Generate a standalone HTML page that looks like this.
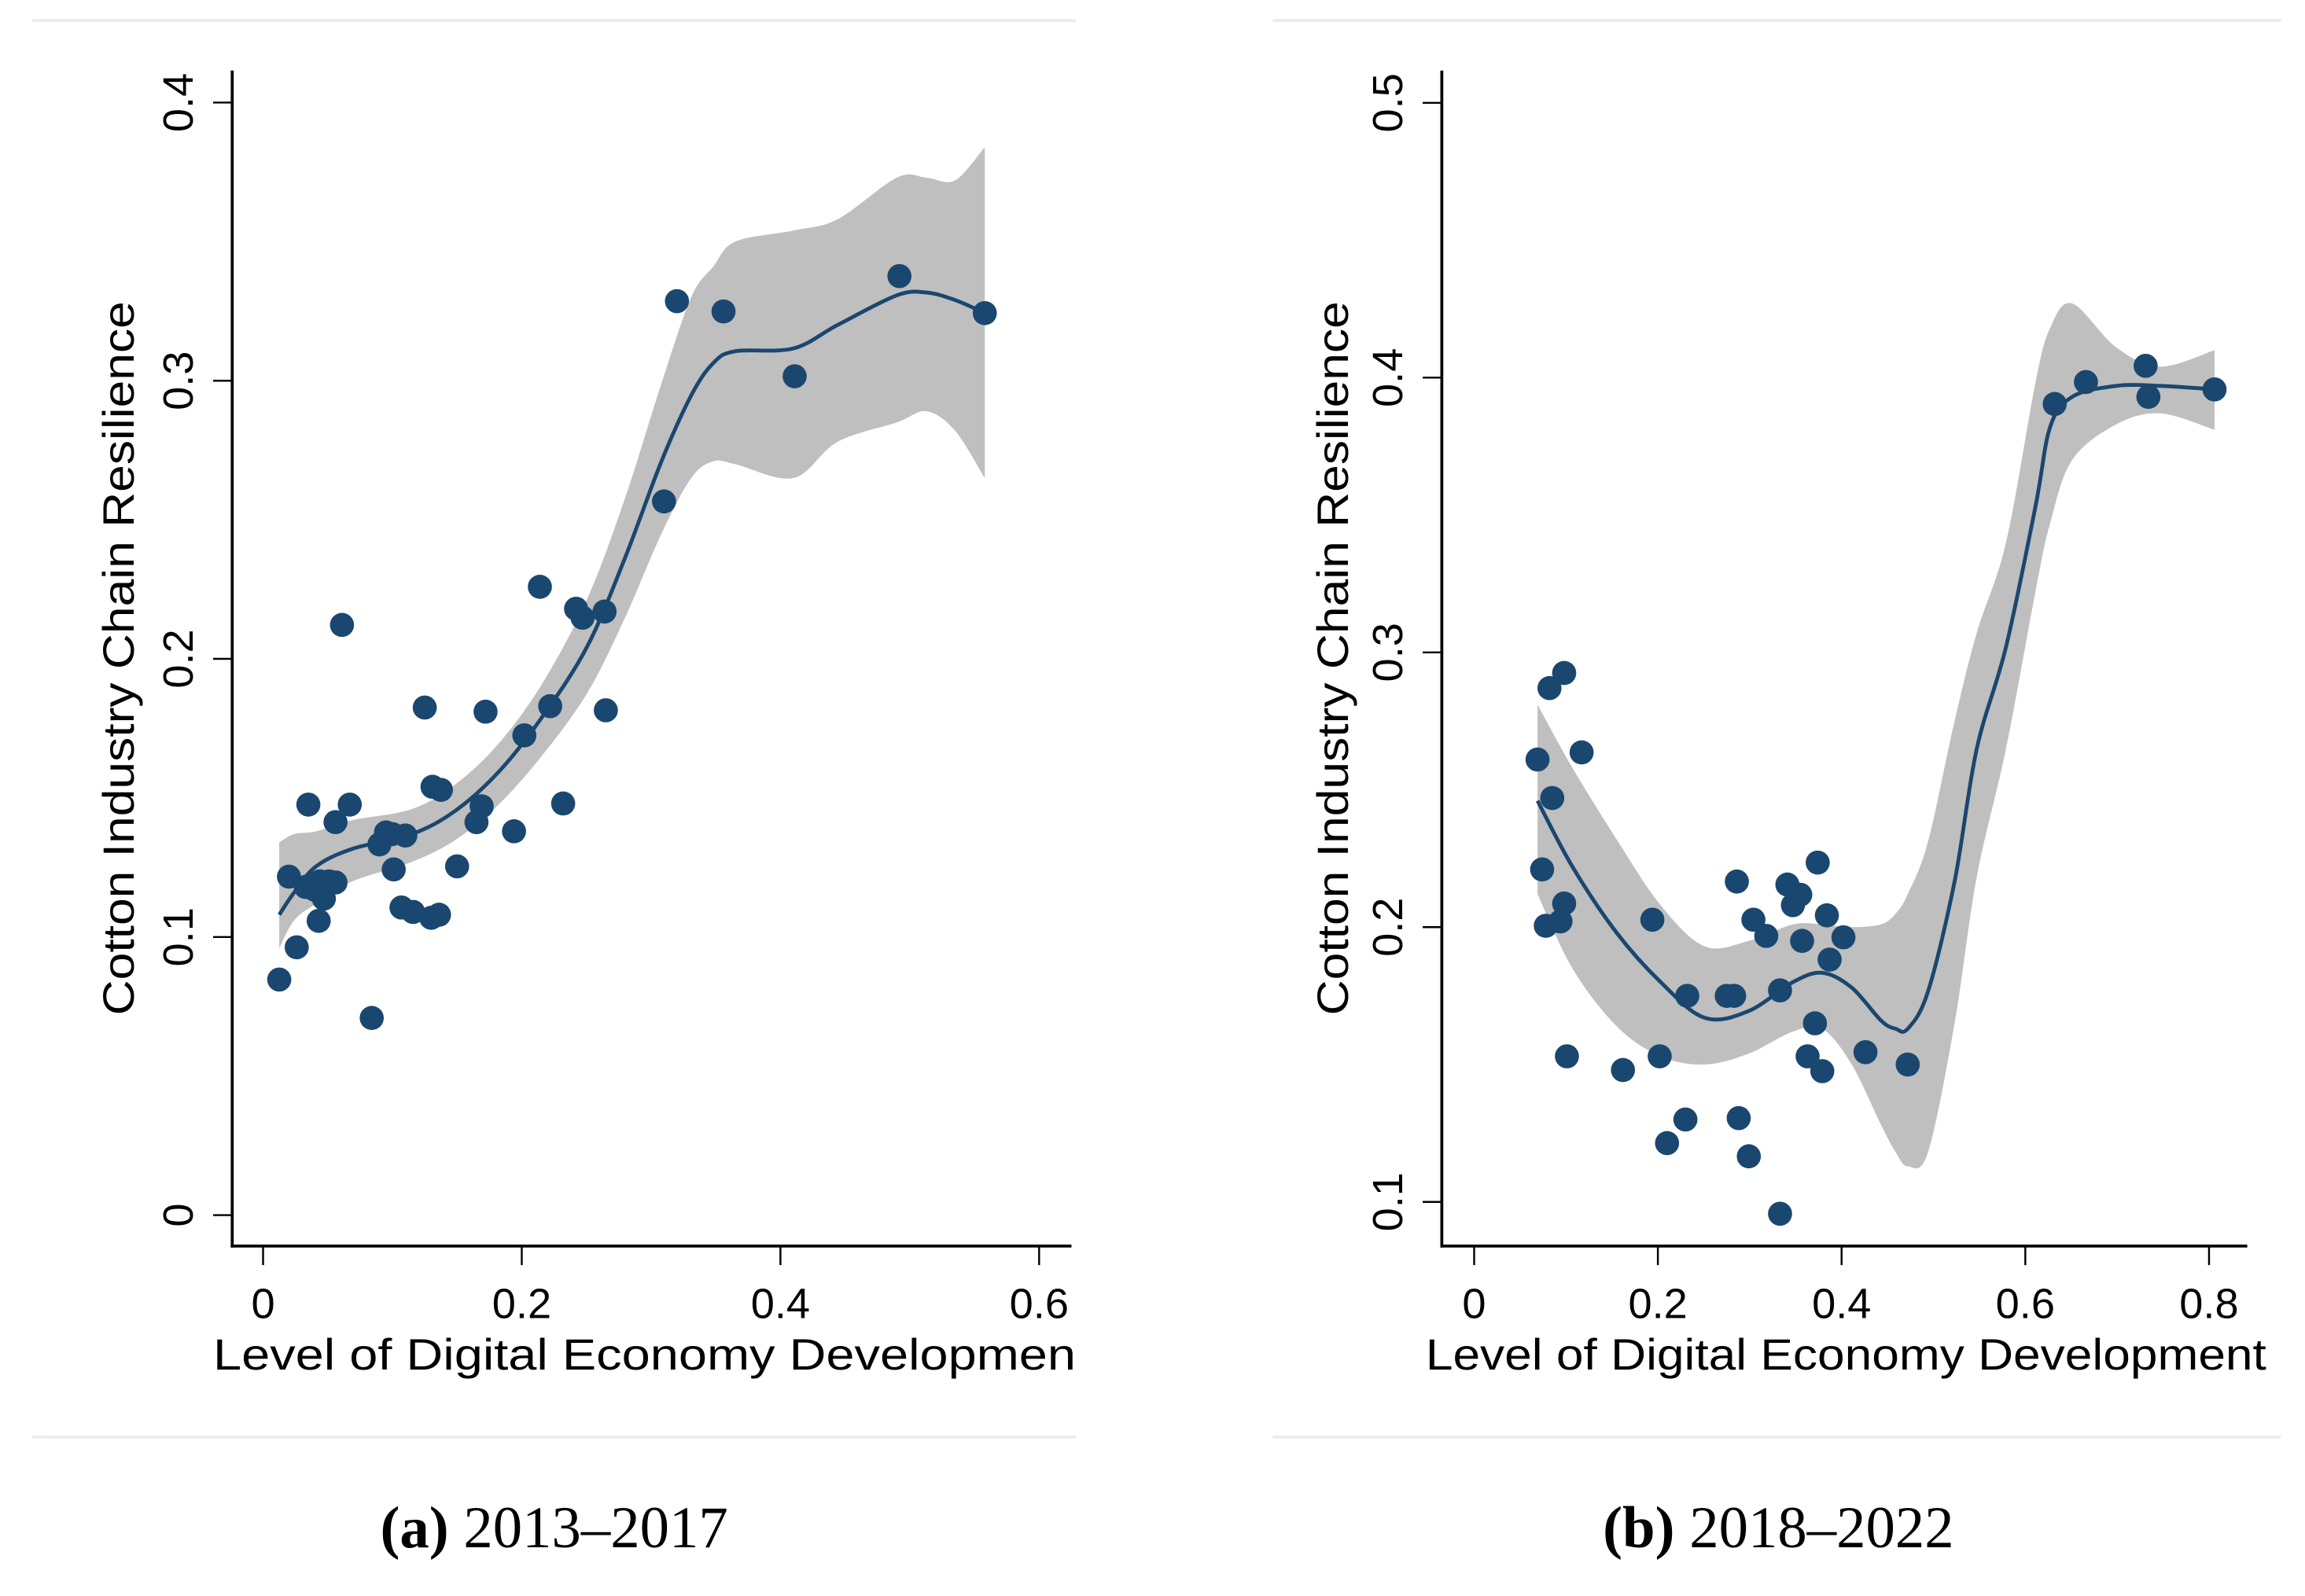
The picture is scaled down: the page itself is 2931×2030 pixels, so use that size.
<!DOCTYPE html>
<html><head><meta charset="utf-8"><style>
html,body{margin:0;padding:0;background:#fff;}
svg{display:block;}
text{font-family:"Liberation Sans",sans-serif;fill:#000;}
.cap{font-family:"Liberation Serif",serif;}
</style></head><body>
<svg id="fig" width="2931" height="2030" viewBox="0 0 1568.3 1086.2" xmlns="http://www.w3.org/2000/svg">
<g stroke="#e6eded" stroke-width="2">
<line x1="22" y1="14" x2="732" y2="14"/><line x1="22" y1="978" x2="732" y2="978"/>
<line x1="866" y1="14" x2="1552" y2="14"/><line x1="866" y1="978" x2="1552" y2="978"/>
</g>
<text class="cap" x="377" y="1053" font-size="40" text-anchor="middle"><tspan font-weight="bold">(a)</tspan> 2013–2017</text>
<text class="cap" x="1210" y="1053" font-size="40" text-anchor="middle"><tspan font-weight="bold">(b)</tspan> 2018–2022</text>
<g id="pa"></g>
<g id="pb"></g>
</svg>
<script>
// Panel A data (2013–2017)
const aPointsX=[0.0125,0.020,0.026,0.035,0.033,0.040,0.044,0.043,0.047,0.051,0.056,0.056,0.061,0.067,0.084,0.090,0.095,0.101,0.100,0.107,0.110,0.116,0.125,0.131,0.130,0.1375,0.136,0.150,0.165,0.169,0.172,0.194,0.202,0.214,0.222,0.232,0.242,0.247,0.264,0.265,0.310,0.320,0.356,0.411,0.492,0.558];
const aPointsY=[0.0847,0.1217,0.0963,0.1476,0.118,0.117,0.120,0.1058,0.1138,0.120,0.1413,0.1196,0.2122,0.1476,0.0709,0.1333,0.1376,0.1243,0.137,0.1106,0.1365,0.109,0.1825,0.154,0.1069,0.1529,0.108,0.1254,0.1413,0.147,0.181,0.138,0.1725,0.2259,0.183,0.148,0.218,0.2148,0.217,0.1815,0.2566,0.3286,0.3249,0.3016,0.3376,0.3243];
const aFitX=[0.0125,0.024,0.041,0.069,0.115,0.149,0.183,0.217,0.251,0.280,0.308,0.331,0.348,0.365,0.410,0.444,0.490,0.513,0.535,0.558];
const aFitY=[0.108,0.116,0.1254,0.1317,0.137,0.1455,0.1598,0.1799,0.2048,0.2365,0.271,0.2947,0.3063,0.3106,0.3116,0.320,0.3307,0.3317,0.329,0.3243];
const aUpper=[0.134,0.137,0.138,0.142,0.146,0.155,0.170,0.192,0.222,0.258,0.299,0.330,0.341,0.350,0.354,0.358,0.373,0.373,0.372,0.384];
const aLower=[0.096,0.106,0.112,0.120,0.127,0.135,0.148,0.166,0.188,0.215,0.245,0.265,0.271,0.270,0.265,0.278,0.285,0.289,0.282,0.265];
const aXTicks=[0,0.2,0.4,0.6];
const aYTicks=[0,0.1,0.2,0.3,0.4];
// Panel B data (2018–2022)
const bPointsX=[0.069,0.082,0.098,0.117,0.085,0.074,0.078,0.098,0.094,0.101,0.162,0.194,0.202,0.210,0.230,0.232,0.275,0.283,0.286,0.288,0.299,0.304,0.318,0.333,0.333,0.341,0.347,0.355,0.357,0.363,0.371,0.374,0.379,0.384,0.387,0.402,0.426,0.472,0.632,0.666,0.731,0.734,0.806];
const bPointsY=[0.261,0.287,0.2925,0.2636,0.247,0.221,0.2005,0.2086,0.2021,0.153,0.148,0.2027,0.153,0.1214,0.130,0.175,0.175,0.175,0.2166,0.1305,0.1166,0.2027,0.1968,0.177,0.0957,0.2155,0.208,0.2118,0.195,0.153,0.165,0.2235,0.1476,0.2043,0.1882,0.1963,0.1545,0.150,0.3904,0.3984,0.4043,0.3930,0.3957];
const bFitX=[0.069,0.107,0.155,0.203,0.251,0.299,0.347,0.379,0.411,0.443,0.459,0.472,0.494,0.523,0.547,0.579,0.611,0.627,0.651,0.699,0.747,0.806];
const bFitY=[0.246,0.222,0.198,0.180,0.167,0.1695,0.180,0.1834,0.178,0.166,0.163,0.163,0.1765,0.2166,0.2647,0.302,0.353,0.382,0.393,0.397,0.397,0.3957];
const bUpper=[0.281,0.258,0.232,0.208,0.193,0.195,0.201,0.201,0.200,0.201,0.205,0.212,0.231,0.275,0.307,0.340,0.398,0.418,0.427,0.411,0.404,0.410];
const bLower=[0.212,0.185,0.164,0.153,0.150,0.154,0.162,0.163,0.150,0.128,0.118,0.113,0.118,0.165,0.218,0.265,0.322,0.347,0.370,0.383,0.387,0.381];
const bXTicks=[0,0.2,0.4,0.6,0.8];
const bYTicks=[0.1,0.2,0.3,0.4,0.5];

const NS="http://www.w3.org/2000/svg";
function mk(parent,tag,attrs){const e=document.createElementNS(NS,tag);for(const k in attrs)e.setAttribute(k,attrs[k]);parent.appendChild(e);return e;}
function smooth(pts){let d="M"+pts[0][0]+","+pts[0][1];for(let i=0;i<pts.length-1;i++){const p0=pts[Math.max(i-1,0)],p1=pts[i],p2=pts[i+1],p3=pts[Math.min(i+2,pts.length-1)];const c1x=p1[0]+(p2[0]-p0[0])/6,c1y=p1[1]+(p2[1]-p0[1])/6,c2x=p2[0]-(p3[0]-p1[0])/6,c2y=p2[1]-(p3[1]-p1[1])/6;d+=" C"+c1x+","+c1y+" "+c2x+","+c2y+" "+p2[0]+","+p2[1];}return d;}
function smoothCont(pts){return smooth(pts).replace(/^M/,"L");}

function panel(g,cfg){
  const sx=v=>cfg.x0+(v-cfg.xv0)*cfg.xs;
  const sy=v=>cfg.y0-(v-cfg.yv0)*cfg.ys;
  const up=cfg.fx.map((x,i)=>[sx(x),sy(cfg.up[i])]);
  const lo=cfg.fx.map((x,i)=>[sx(x),sy(cfg.lo[i])]).reverse();
  const band=mk(g,"path",{d:smooth(up)+" L"+lo[0][0]+","+lo[0][1]+" "+smoothCont(lo).slice(1).replace(/^[^C]*/,"")+" Z",fill:"#bfbfbf"});
  
  
  const fit=mk(g,"path",{d:smooth(cfg.fx.map((x,i)=>[sx(x),sy(cfg.fy[i])])),fill:"none",stroke:"#1a476f","stroke-width":2.6});
  
  
  cfg.px.forEach((x,i)=>{
    const c=mk(g,"ellipse",{cx:sx(x),cy:sy(cfg.py[i]),rx:8.2,ry:8.2,fill:"#1a476f"});
    
    
  });
  const ya=mk(g,"line",{x1:cfg.ax,y1:48,x2:cfg.ax,y2:849,stroke:"#000","stroke-width":2});
  
  
  const xa=mk(g,"line",{x1:cfg.ax-1,y1:848,x2:cfg.axEnd,y2:848,stroke:"#000","stroke-width":2});
  
  
  cfg.yt.forEach(v=>{
    const y=sy(v);
    const t=mk(g,"line",{x1:cfg.ax-13,y1:y,x2:cfg.ax,y2:y,stroke:"#000","stroke-width":1.3});
    
    
    const l=mk(g,"text",{x:0,y:0,"font-size":29,"text-anchor":"middle",transform:"translate("+(cfg.ax-27)+","+y+") rotate(-90)"});
    
    
    l.textContent=String(v);
  });
  cfg.xt.forEach(v=>{
    const x=sx(v);
    const t=mk(g,"line",{x1:x,y1:848,x2:x,y2:861,stroke:"#000","stroke-width":1.3});
    
    
    const l=mk(g,"text",{x:x,y:897,"font-size":29,"text-anchor":"middle"});
    
    
    l.textContent=String(v);
  });
  const xt=mk(g,"text",{x:cfg.xtX,y:932,"font-size":30,textLength:cfg.xtLen,lengthAdjust:"spacingAndGlyphs"});
  
  
  xt.textContent=cfg.xTitle;
  const yt=mk(g,"text",{x:0,y:0,"font-size":30,"text-anchor":"middle",textLength:486,lengthAdjust:"spacingAndGlyphs",transform:"translate("+cfg.ytX+",448) rotate(-90)"});
  
  
  yt.textContent="Cotton Industry Chain Resilience";
}
panel(document.getElementById('pa'),{x0:179,xv0:0,xs:880,y0:827,yv0:0,ys:1893,ax:158,axEnd:729,px:aPointsX,py:aPointsY,fx:aFitX,fy:aFitY,up:aUpper,lo:aLower,xt:aXTicks,yt:aYTicks,xtX:145,xtLen:587,xTitle:"Level of Digital Economy Developmen",ytX:91});
panel(document.getElementById('pb'),{x0:1003,xv0:0,xs:625,y0:818,yv0:0.1,ys:1870,ax:981,axEnd:1529,px:bPointsX,py:bPointsY,fx:bFitX,fy:bFitY,up:bUpper,lo:bLower,xt:bXTicks,yt:bYTicks,xtX:970,xtLen:572,xTitle:"Level of Digital Economy Development",ytX:917});
</script>
</body></html>
